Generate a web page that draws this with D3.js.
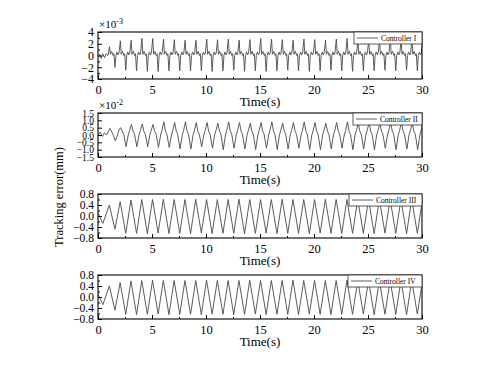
<!DOCTYPE html>
<html>
<head>
<meta charset="utf-8">
<script src="https://cdn.jsdelivr.net/npm/d3@7"></script>
<style>
  body { margin: 0; background: #fff; }
  text { font-family: "Liberation Serif", "Times New Roman", serif; fill: #000; }
</style>
</head>
<body>
<div id="chart"></div>
<script>
// ---- data ----
const xTicks = [0, 5, 10, 15, 20, 25, 30]
const yTicks1 = [-4, -2, 0, 2, 4]
const yTicks2 = [-1.5, -1.0, -0.5, 0.0, 0.5, 1.0, 1.5]
const yTicks34 = [-0.8, -0.4, 0.0, 0.4, 0.8]
const legendNames = ['Controller I', 'Controller II', 'Controller III', 'Controller IV']

// Controller I (x1e-3): start, spike per cycle (t = k + 0.07), dip per cycle (t = k + 0.57)
const start1 = [[0, -0.3], [0.15, 0.2], [0.3, -0.5], [0.45, 0.3], [0.6, -0.4], [0.75, 0.3], [0.92, 0.0]]
const spike1 = [1.5, 2.5, 2.6, 2.9, 2.9, 2.8, 2.7, 2.6, 2.6, 2.8, 2.7, 2.8, 2.6, 2.7, 2.9,
  2.8, 2.7, 2.6, 2.8, 2.7, 2.6, 2.8, 2.9, 2.7, 2.6, 2.7, 2.8, 2.6, 2.7, 2.7]
const dip1 = [-2.0, -2.5, -2.6, -2.7, -2.7, -2.6, -2.6, -2.6, -2.6, -2.7, -2.6, -2.5, -2.7, -2.6, -2.7,
  -2.6, -2.5, -2.6, -2.7, -2.6, -2.5, -2.6, -2.7, -2.6, -2.6, -2.5, -2.6, -2.5, -2.6, -2.6]
const ripple1a = [[0.15, 0.2], [0.27, 0.7], [0.4, 0.0], [0.47, 0.3]]
const ripple1b = [[0.66, 0.0], [0.76, 0.6], [0.86, 0.1], [0.94, 0.4]]

// Controller II (x1e-2): peak at k + 0.1, trough at k + 0.6
const start2 = [[0, 0.0], [0.2, 0.2], [0.4, -0.1], [0.6, 0.15], [0.8, 0.0]]
const peak2 = [0.45, 0.5, 0.72, 0.75, 0.72, 0.9, 0.85, 0.9, 0.85, 0.85, 0.8, 0.9, 0.85, 0.8, 0.85,
  0.9, 0.8, 0.85, 0.9, 0.85, 0.8, 0.85, 0.9, 0.8, 0.85, 0.8, 0.85, 0.9, 0.8, 0.85]
const trough2 = [-0.4, -0.8, -0.8, -0.8, -0.85, -0.85, -0.95, -0.95, -0.8, -0.9, -1.0, -0.9, -0.95, -1.0, -0.9,
  -1.0, -0.95, -0.9, -1.0, -1.0, -0.95, -0.9, -1.0, -0.95, -1.0, -0.9, -1.0, -0.95, -1.0, -0.95]
const shoulder2a = [[0.25, 0.25], [0.38, 0.05]]
const shoulder2b = [[0.8, 0.0], [0.92, 0.3]]

// Controller III / IV: peak at k + 0.05, trough at k + 0.57
const start3 = [[0, 0.1], [0.45, -0.27]]
const peak3 = [0.40, 0.52, 0.58, 0.60, 0.60, 0.61, 0.60, 0.60, 0.61, 0.60, 0.60, 0.60, 0.61, 0.60, 0.60,
  0.60, 0.61, 0.60, 0.60, 0.60, 0.61, 0.60, 0.60, 0.60, 0.60, 0.61, 0.60, 0.60, 0.60, 0.60]
const trough3 = [-0.48, -0.63, -0.63, -0.64, -0.62, -0.64, -0.63, -0.64, -0.62, -0.64, -0.63, -0.63, -0.64, -0.63, -0.62,
  -0.64, -0.63, -0.63, -0.64, -0.62, -0.63, -0.64, -0.63, -0.63, -0.64, -0.62, -0.63, -0.64, -0.63, -0.63]
const start4 = [[0, 0.1], [0.45, -0.28]]
const peak4 = [0.40, 0.52, 0.58, 0.60, 0.61, 0.60, 0.60, 0.60, 0.60, 0.61, 0.60, 0.60, 0.60, 0.61, 0.60,
  0.60, 0.60, 0.61, 0.60, 0.60, 0.60, 0.60, 0.61, 0.60, 0.60, 0.60, 0.61, 0.60, 0.60, 0.60]
const trough4 = [-0.48, -0.63, -0.64, -0.63, -0.62, -0.64, -0.63, -0.63, -0.64, -0.62, -0.63, -0.64, -0.63, -0.62, -0.64,
  -0.63, -0.63, -0.64, -0.62, -0.63, -0.64, -0.63, -0.63, -0.62, -0.64, -0.63, -0.63, -0.64, -0.62, -0.63]

// join the read extremes into one polyline, cycle by cycle
function buildSeries(start, hi, hiPhase, midA, lo, loPhase, midB) {
  const pts = start.slice()
  hi.forEach((h, i) => {
    const k = i + 1
    pts.push([k + hiPhase, h])
    midA.forEach(d => pts.push([k + d[0], d[1]]))
    pts.push([k + loPhase, lo[i]])
    midB.forEach(d => pts.push([k + d[0], d[1]]))
  })
  return pts
}

const panels = [
  { top: 32, bottom: 79, domain: [-4, 4], ticks: yTicks1, minor: d3.range(-3, 4, 2), fmt: d3.format('d'),
    tickFont: 12, exp: '-3', legend: { x: 354, w: 68 },
    data: buildSeries(start1, spike1, 0.07, ripple1a, dip1, 0.57, ripple1b) },
  { top: 113, bottom: 157, domain: [-1.5, 1.5], ticks: yTicks2, minor: [], fmt: d3.format('.1f'),
    tickFont: 9.5, exp: '-2', legend: { x: 353, w: 69 },
    data: buildSeries(start2, peak2, 0.1, shoulder2a, trough2, 0.6, shoulder2b) },
  { top: 194, bottom: 238, domain: [-0.8, 0.8], ticks: yTicks34, minor: [-0.6, -0.2, 0.2, 0.6], fmt: d3.format('.1f'),
    tickFont: 11.5, exp: null, legend: { x: 349, w: 73 },
    data: [...start3, ...buildSeries([], peak3, 0.05, [], trough3, 0.57, [])] },
  { top: 275, bottom: 319, domain: [-0.8, 0.8], ticks: yTicks34, minor: [-0.6, -0.2, 0.2, 0.6], fmt: d3.format('.1f'),
    tickFont: 11.5, exp: null, legend: { x: 348, w: 74 },
    data: [...start4, ...buildSeries([], peak4, 0.05, [], trough4, 0.57, [])] }
]

const W = 487, H = 369
const left = 98, right = 422

const svg = d3.select('#chart').append('svg')
  .attr('width', W)
  .attr('height', H)
svg.append('rect').attr('width', W).attr('height', H).attr('fill', '#fff')

const x = d3.scaleLinear().domain([0, 30]).range([left, right])

panels.forEach((p, i) => {
  const y = d3.scaleLinear().domain(p.domain).range([p.bottom, p.top])
  const g = svg.append('g')

  g.append('clipPath').attr('id', 'clip' + i)
    .append('rect')
    .attr('x', left).attr('y', p.top)
    .attr('width', right - left).attr('height', p.bottom - p.top)

  g.append('path')
    .datum(p.data)
    .attr('clip-path', `url(#clip${i})`)
    .attr('fill', 'none')
    .attr('stroke', '#4a4a4a')
    .attr('stroke-width', 0.9)
    .attr('d', d3.line().x(d => x(d[0])).y(d => y(d[1])))

  // x axis, ticks inward
  g.append('g')
    .attr('transform', `translate(0,${p.bottom})`)
    .call(d3.axisBottom(x).tickValues(xTicks).tickFormat(d3.format('d'))
      .tickSizeInner(-4).tickSizeOuter(0).tickPadding(6))
    .call(a => a.select('.domain').remove())
    .call(a => a.selectAll('text').attr('font-size', 12.5).attr('font-family', '"Liberation Serif", serif'))
  g.append('g')
    .attr('transform', `translate(0,${p.bottom})`)
    .call(d3.axisBottom(x).tickValues(d3.range(2.5, 30, 5)).tickFormat('')
      .tickSizeInner(-2).tickSizeOuter(0))
    .call(a => a.select('.domain').remove())

  // y axis, ticks inward
  g.append('g')
    .attr('transform', `translate(${left},0)`)
    .call(d3.axisLeft(y).tickValues(p.ticks).tickFormat(p.fmt)
      .tickSizeInner(-4).tickSizeOuter(0).tickPadding(4))
    .call(a => a.select('.domain').remove())
    .call(a => a.selectAll('text').attr('font-size', p.tickFont).attr('font-family', '"Liberation Serif", serif'))
  if (p.minor.length) {
    g.append('g')
      .attr('transform', `translate(${left},0)`)
      .call(d3.axisLeft(y).tickValues(p.minor).tickFormat('')
        .tickSizeInner(-2).tickSizeOuter(0))
      .call(a => a.select('.domain').remove())
  }

  g.append('rect')
    .attr('x', left).attr('y', p.top)
    .attr('width', right - left).attr('height', p.bottom - p.top)
    .attr('fill', 'none').attr('stroke', '#000').attr('stroke-width', 1.1)

  if (p.exp) {
    const t = g.append('text')
      .attr('x', left + 1).attr('y', p.top - 4)
      .attr('font-size', 11)
    t.append('tspan').text('×10')
    t.append('tspan').attr('dy', -4).attr('font-size', 8).text(p.exp)
  }

  g.append('text')
    .attr('x', (left + right) / 2).attr('y', p.bottom + 27)
    .attr('text-anchor', 'middle')
    .attr('font-size', 13)
    .text('Time(s)')

  // legend
  const lg = g.append('g').attr('transform', `translate(${p.legend.x},${p.top})`)
  lg.append('rect')
    .attr('width', p.legend.w).attr('height', 12)
    .attr('fill', '#fff').attr('stroke', '#333').attr('stroke-width', 0.8)
  lg.append('line')
    .attr('x1', 3).attr('x2', 24).attr('y1', 6).attr('y2', 6)
    .attr('stroke', '#4a4a4a').attr('stroke-width', 0.9)
  lg.append('text')
    .attr('x', 27).attr('y', 8.7)
    .attr('font-size', 7.5)
    .text(legendNames[i])
})

svg.append('text')
  .attr('transform', 'translate(63,197) rotate(-90)')
  .attr('text-anchor', 'middle')
  .attr('font-size', 12.5)
  .text('Tracking error(mm)')
</script>
</body>
</html>
